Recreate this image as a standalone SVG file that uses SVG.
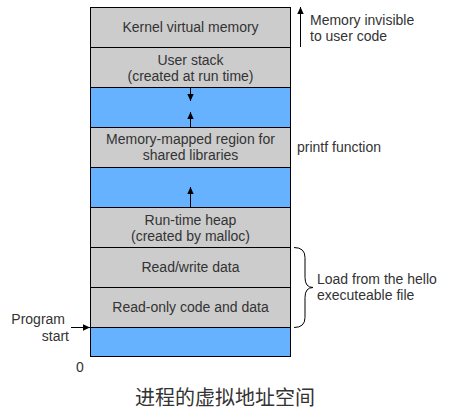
<svg xmlns="http://www.w3.org/2000/svg" width="456" height="410" viewBox="0 0 456 410">
<style>
  .g { fill: #CCCCCC; stroke: #000000; stroke-width: 1; }
  .b { fill: #66B2FF; stroke: #000000; stroke-width: 1; }
  text { font-family: "Liberation Sans", Arial, sans-serif; font-size: 14px; fill: #333333; }
  .c { text-anchor: middle; }
  .e { text-anchor: end; }
  .ln { stroke: #000000; stroke-width: 1; fill: none; }
  .title { font-family: "Noto Sans CJK SC", "Noto Sans", sans-serif; font-size: 20px; text-anchor: middle; fill: #333333; }
</style>
<defs>
  <marker id="arr" viewBox="0 0 8 8" refX="7" refY="4" markerWidth="8" markerHeight="8" markerUnits="userSpaceOnUse" orient="auto">
    <path d="M0,0.8 L7,4 L0,7.2 Z" fill="#000000"/>
  </marker>
</defs>
<rect width="456" height="410" fill="#FFFFFF"/>

<g id="kernel">
  <rect class="g" x="90.5" y="7.5" width="200" height="40"/>
  <text class="c" x="190.5" y="32">Kernel virtual memory</text>
</g>
<g id="user-stack">
  <rect class="g" x="90.5" y="47.5" width="200" height="40"/>
  <text class="c" x="190.5" y="65">User stack</text>
  <text class="c" x="190.5" y="81">(created at run time)</text>
</g>
<g id="gap1">
  <rect class="b" x="90.5" y="87.5" width="200" height="40"/>
</g>
<g id="mmap">
  <rect class="g" x="90.5" y="127.5" width="200" height="40"/>
  <text class="c" x="190.5" y="144">Memory-mapped region for</text>
  <text class="c" x="190.5" y="160">shared libraries</text>
</g>
<g id="gap2">
  <rect class="b" x="90.5" y="167.5" width="200" height="40"/>
</g>
<g id="heap">
  <rect class="g" x="90.5" y="207.5" width="200" height="40"/>
  <text class="c" x="190.5" y="225">Run-time heap</text>
  <text class="c" x="190.5" y="241">(created by malloc)</text>
</g>
<g id="rw-data">
  <rect class="g" x="90.5" y="247.5" width="200" height="40"/>
  <text class="c" x="190.5" y="272">Read/write data</text>
</g>
<g id="ro-code">
  <rect class="g" x="90.5" y="287.5" width="200" height="40"/>
  <text class="c" x="190.5" y="312">Read-only code and data</text>
</g>
<g id="bottom">
  <rect class="b" x="90.5" y="327.5" width="200" height="29"/>
</g>

<g id="label-invisible">
  <text x="310" y="25">Memory invisible</text>
  <text x="310" y="41">to user code</text>
</g>
<g id="label-printf">
  <text x="297" y="152">printf function</text>
</g>
<g id="label-load">
  <text x="317" y="284">Load from the hello</text>
  <text x="317" y="300">executeable file</text>
</g>
<g id="label-program-start">
  <text class="e" x="65" y="324">Program</text>
  <text class="e" x="69" y="341">start</text>
</g>
<g id="label-zero">
  <text class="c" x="80" y="372">0</text>
</g>
<g id="title">
  <text class="title" x="225" y="405">进程的虚拟地址空间</text>
</g>

<g id="connectors">
  <line class="ln" x1="190.5" y1="88" x2="190.5" y2="101" marker-end="url(#arr)"/>
  <line class="ln" x1="190.5" y1="127" x2="190.5" y2="112" marker-end="url(#arr)"/>
  <line class="ln" x1="190.5" y1="207" x2="190.5" y2="187" marker-end="url(#arr)"/>
  <line class="ln" x1="300.5" y1="47" x2="300.5" y2="7" marker-end="url(#arr)"/>
  <line class="ln" x1="71" y1="327.5" x2="90" y2="327.5" marker-end="url(#arr)"/>
  <path class="ln" d="M294,247.5 Q305,247.5 305,257.5 L305,277.5 Q305,287.5 313,287.5 Q305,287.5 305,297.5 L305,317.5 Q305,327.5 294,327.5"/>
</g>
</svg>
